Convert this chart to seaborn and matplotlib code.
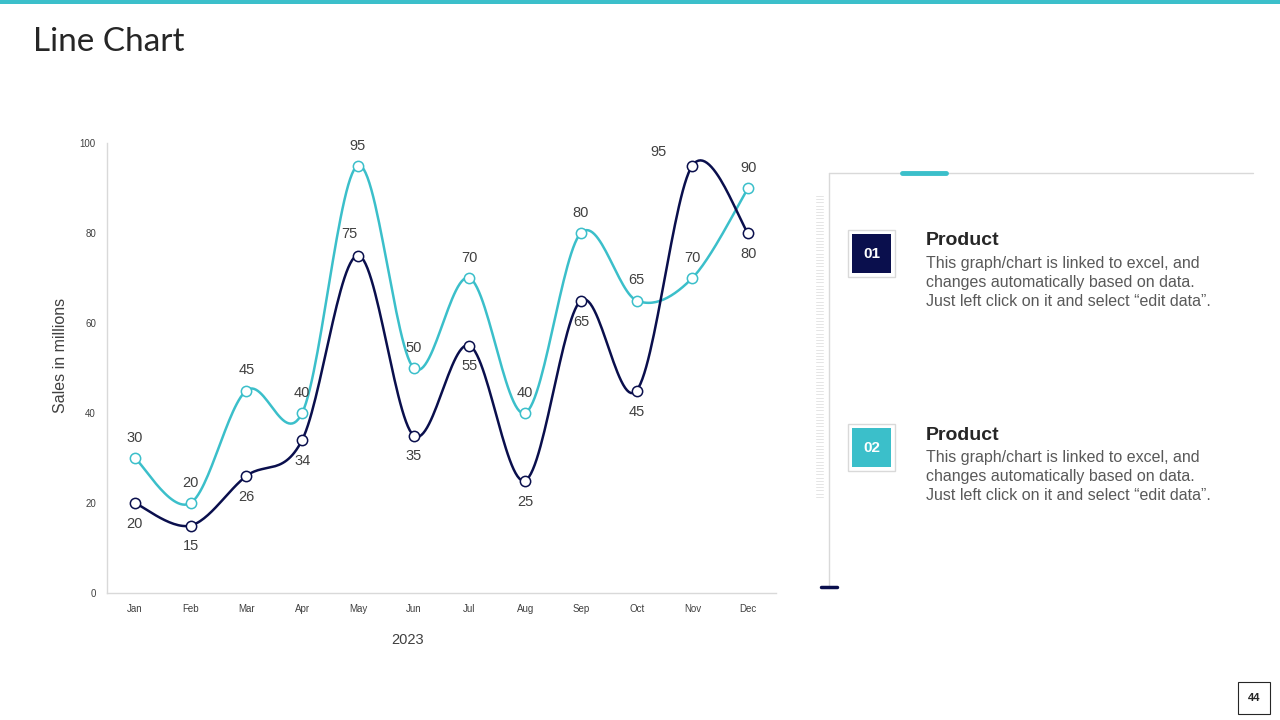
import numpy as np
import pandas as pd
import seaborn as sns
import matplotlib.pyplot as plt
from matplotlib.patches import Rectangle
from matplotlib.lines import Line2D

# data
months = ["Jan", "Feb", "Mar", "Apr", "May", "Jun", "Jul", "Aug", "Sep", "Oct", "Nov", "Dec"]
product_01 = [20, 15, 26, 34, 75, 35, 55, 25, 65, 45, 95, 80]
product_02 = [30, 20, 45, 40, 95, 50, 70, 40, 80, 65, 70, 90]
y_ticks = [0, 20, 40, 60, 80, 100]
x_title = "2023"
y_title = "Sales in millions"
desc = "This graph/chart is linked to excel, and\nchanges automatically based on data.\nJust left click on it and select \u201cedit data\u201d."

NAVY = "#0a0f4d"
TEAL = "#3bbfca"

sns.set_style("white")
plt.rcParams["font.family"] = ["Liberation Sans", "DejaVu Sans"]


def smooth(xs, ys, n=30):
    # catmull-rom style smoothing like the office "smoothed line"
    p = np.column_stack([xs, ys]).astype(float)
    p = np.vstack([p[0], p, p[-1]])
    out = []
    for i in range(1, len(p) - 2):
        p0, p1, p2, p3 = p[i - 1], p[i], p[i + 1], p[i + 2]
        c1 = p1 + (p2 - p0) / 6
        c2 = p2 - (p3 - p1) / 6
        t = np.linspace(0, 1, n)[:, None]
        seg = (1 - t) ** 3 * p1 + 3 * (1 - t) ** 2 * t * c1 + 3 * (1 - t) * t ** 2 * c2 + t ** 3 * p2
        out.append(seg if i == 1 else seg[1:])
    out = np.vstack(out)
    return out[:, 0], out[:, 1]


fig = plt.figure(figsize=(12.8, 7.2), dpi=100)

# top bar and title
fig.add_artist(Rectangle((0, 1 - 4 / 720), 1, 4 / 720, transform=fig.transFigure, color=TEAL, lw=0))
fig.text(33 / 1280, 1 - 42 / 720, "Line Chart", fontsize=24, color="#262626",
         family=["Lato", "DejaVu Sans"], va="center", ha="left")

ax = fig.add_axes([107 / 1280, 1 - 593 / 720, 669 / 1280, 450 / 720])
xi = np.arange(len(months))

for vals, col in [(product_02, TEAL), (product_01, NAVY)]:
    sx, sy = smooth(xi, vals)
    curve = pd.DataFrame({"x": sx, "y": sy})
    sns.lineplot(data=curve, x="x", y="y", sort=False, color=col, lw=1.8, ax=ax)
    pts = pd.DataFrame({"x": xi, "y": vals})
    sns.scatterplot(data=pts, x="x", y="y", s=55, facecolor="white", edgecolor=col,
                    linewidth=1.1, ax=ax, zorder=5)

# data labels (pixel offsets)
off1 = {4: (-9, 21), 10: (-34, 14)}
for i, v in enumerate(product_01):
    dx, dy = off1.get(i, (0, -21))
    ax.annotate(str(v), (i, v), xytext=(dx, dy), textcoords="offset pixels",
                ha="center", va="center", fontsize=10.5, color="#404040")
for i, v in enumerate(product_02):
    ax.annotate(str(v), (i, v), xytext=(0, 20), textcoords="offset pixels",
                ha="center", va="center", fontsize=10.5, color="#404040")

ax.set_xlim(-0.5, len(months) - 0.5)
ax.set_ylim(0, 100)
ax.set_xticks(xi)
ax.set_xticklabels(months)
ax.set_yticks(y_ticks)
ax.tick_params(axis="both", length=0, labelsize=7, colors="#404040", pad=8)
ax.set_xlabel(x_title, fontsize=10.5, color="#404040")
ax.set_ylabel(y_title, fontsize=11.5, color="#404040")
ax.xaxis.set_label_coords((408 - 107) / 669, -(640 - 593) / 450)
ax.yaxis.set_label_coords((61 - 107) / 669, (593 - 355) / 450)
ax.xaxis.label.set_va("center")
ax.yaxis.label.set_va("center")
for s in ["top", "right"]:
    ax.spines[s].set_visible(False)
for s in ["left", "bottom"]:
    ax.spines[s].set_color("#d9d9d9")
    ax.spines[s].set_linewidth(1)


def px(x, y):
    return x / 1280, 1 - y / 720


# right panel frame
fig.add_artist(Line2D([px(829, 0)[0]] * 2, [px(0, 173)[1], px(0, 588)[1]], color="#d9d9d9", lw=1))
fig.add_artist(Line2D([px(829, 0)[0], px(1253, 0)[0]], [px(0, 173)[1]] * 2, color="#d9d9d9", lw=1))
fig.add_artist(Line2D([px(902, 0)[0], px(946, 0)[0]], [px(0, 173)[1]] * 2, color=TEAL, lw=3.5,
                      solid_capstyle="round"))
fig.add_artist(Line2D([px(821, 0)[0], px(837, 0)[0]], [px(0, 587)[1]] * 2, color=NAVY, lw=2.5,
                      solid_capstyle="round"))
for yy in np.arange(196, 498, 3.2):
    fig.add_artist(Line2D([px(816, 0)[0], px(823, 0)[0]], [px(0, yy)[1]] * 2, color="#e0e0e0", lw=0.6))

for top, num, col in [(230, "01", NAVY), (424, "02", TEAL)]:
    x0, y0 = px(848, top + 47)
    fig.add_artist(Rectangle((x0, y0), 47 / 1280, 47 / 720, transform=fig.transFigure,
                             facecolor="white", edgecolor="#d9d9d9", lw=1))
    x1, y1 = px(852, top + 43)
    fig.add_artist(Rectangle((x1, y1), 39 / 1280, 39 / 720, transform=fig.transFigure,
                             facecolor=col, lw=0))
    cx, cy = px(871.5, top + 24)
    fig.text(cx, cy, num, color="white", fontsize=11, fontweight="bold", ha="center", va="center")
    tx, ty = px(926, top + 11)
    fig.text(tx, ty, "Product", fontsize=14, fontweight="bold", color="#262626", ha="left", va="center")
    dx, dy = px(926, top + 26)
    fig.text(dx, dy, desc, fontsize=11.5, color="#595959", ha="left", va="top", linespacing=1.33)

# page number
bx, by = px(1238, 714)
fig.add_artist(Rectangle((bx, by), 32 / 1280, 32 / 720, transform=fig.transFigure,
                         facecolor="white", edgecolor="#262626", lw=0.8))
fig.text(px(1254, 0)[0], px(0, 698)[1], "44", fontsize=8, fontweight="bold", color="#262626",
         ha="center", va="center")

fig.savefig("out.png", dpi=100)
